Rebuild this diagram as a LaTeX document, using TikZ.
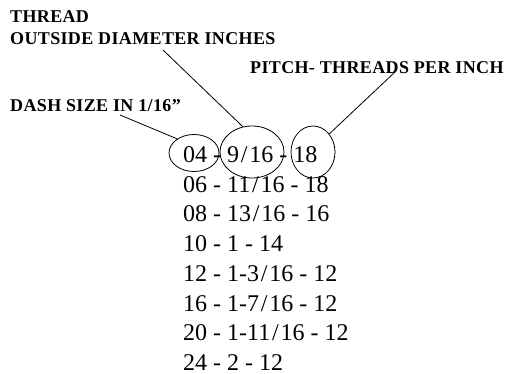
\documentclass[tikz,border=0pt]{standalone}
\usepackage{fontspec}
\setmainfont{Liberation Serif}
\usetikzlibrary{shapes.geometric}
\newcommand{\wsl}{\kern1.8pt/\kern1.8pt}

\begin{document}
\begin{tikzpicture}[
  x=1pt, y=-1pt,
  lbl/.style={anchor=base west, inner sep=0pt, font=\fontsize{18}{20}\selectfont\bfseries\addfontfeatures{LetterSpace=2}},
  row/.style={anchor=base west, inner sep=0pt, font=\fontsize{24}{28}\selectfont},
  ring/.style={draw, ellipse, line width=0.8pt, inner sep=0pt},
  lead/.style={line width=0.8pt}
]
\useasboundingbox (0,0) rectangle (505,374);
\node[lbl] (thread) at (10,23) {THREAD};
\node[lbl] (outside) at (10,45) {OUTSIDE DIAMETER INCHES};
\node[lbl] (pitch) at (250,74) {PITCH- THREADS PER INCH};
\node[lbl] (dash) at (10,112) {DASH SIZE IN 1/16''};
\node[row] (r1) at (183,162) {04 - 9\wsl 16 - 18};
\node[row] (r2) at (183,192) {06 - 11\wsl 16 - 18};
\node[row] (r3) at (183,221) {08 - 13\wsl 16 - 16};
\node[row] (r4) at (183,251) {10 - 1 - 14};
\node[row] (r5) at (183,281) {12 - 1-3\wsl 16 - 12};
\node[row] (r6) at (183,311) {16 - 1-7\wsl 16 - 12};
\node[row] (r7) at (183,340) {20 - 1-11\wsl 16 - 12};
\node[row] (r8) at (183,370) {24 - 2 - 12};
\node[ring, minimum width=50pt, minimum height=37pt] (e04) at (194,153) {};
\node[ring, minimum width=64pt, minimum height=52pt] (e916) at (252,152) {};
\node[ring, minimum width=44pt, minimum height=52pt] (e18) at (313,152) {};
\draw[lead] ([xshift=110pt,yshift=-3pt]dash.base west) -- (e04.140);
\draw[lead] ([xshift=153pt,yshift=-5pt]outside.base west) -- (e916.110);
\draw[lead] ([xshift=145pt,yshift=2pt]pitch.base west) -- (e18.48);
\end{tikzpicture}
\end{document}
